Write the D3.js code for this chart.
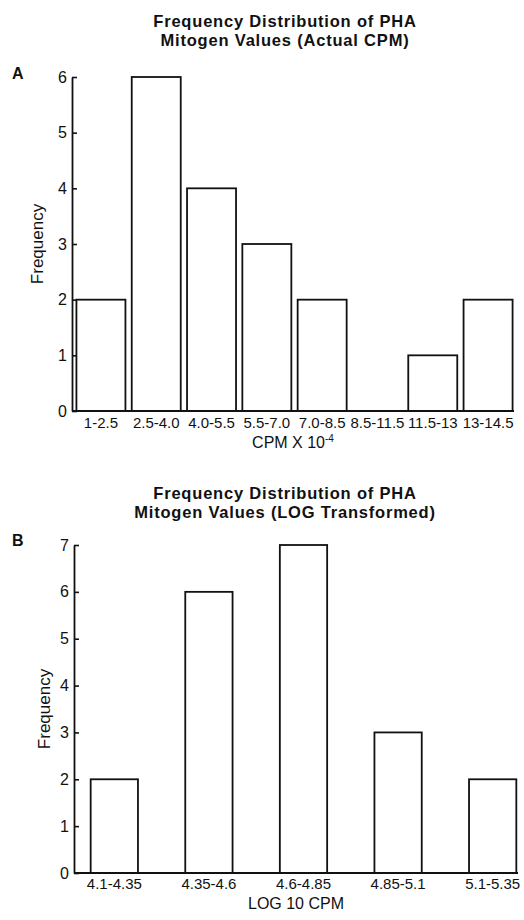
<!DOCTYPE html>
<html>
<head>
<meta charset="utf-8">
<script src="https://cdn.jsdelivr.net/npm/d3@7"></script>
<style>
  body { margin: 0; background: #fff; }
  svg text { font-family: "Liberation Sans", Arial, Helvetica, sans-serif; fill: #111; }
</style>
</head>
<body>
<div id="chart"></div>
<script>
// panel A data
var binsA = ["1-2.5", "2.5-4.0", "4.0-5.5", "5.5-7.0", "7.0-8.5", "8.5-11.5", "11.5-13", "13-14.5"];
var freqA = [2, 6, 4, 3, 2, 0, 1, 2];
var yTicksA = [0, 1, 2, 3, 4, 5, 6];

// panel B data
var binsB = ["4.1-4.35", "4.35-4.6", "4.6-4.85", "4.85-5.1", "5.1-5.35"];
var freqB = [2, 6, 7, 3, 2];
var yTicksB = [0, 1, 2, 3, 4, 5, 6, 7];

const svg = d3.select('#chart')
  .append('svg')
  .attr('width', 524)
  .attr('height', 920);

function panel(opt) {
  var g = svg.append('g');

  var x = d3.scaleBand()
    .domain(opt.bins)
    .range(opt.xRange)
    .paddingInner(opt.pi)
    .paddingOuter(opt.po);

  var y = d3.scaleLinear()
    .domain([0, d3.max(opt.ticks)])
    .range([opt.y0, opt.y1]);

  // title, two lines
  g.append('text')
    .attr('x', opt.titleX).attr('y', opt.titleY)
    .attr('text-anchor', 'middle')
    .style('font-size', '16.5px').style('font-weight', 'bold')
    .style('letter-spacing', '0.8px')
    .text(opt.title[0]);
  g.append('text')
    .attr('x', opt.titleX).attr('y', opt.titleY + 19)
    .attr('text-anchor', 'middle')
    .style('font-size', '16.5px').style('font-weight', 'bold')
    .style('letter-spacing', '0.8px')
    .text(opt.title[1]);

  // panel letter
  g.append('text')
    .attr('x', 12).attr('y', opt.letterY)
    .style('font-size', '16px').style('font-weight', 'bold')
    .text(opt.letter);

  // bars
  var data = opt.bins.map((b, i) => ({bin: b, v: opt.freq[i]})).filter(d => d.v > 0);
  g.selectAll('rect.bar')
    .data(data)
    .enter().append('rect')
    .attr('class', 'bar')
    .attr('x', d => x(d.bin))
    .attr('y', d => y(d.v))
    .attr('width', x.bandwidth())
    .attr('height', d => y(0) - y(d.v))
    .attr('fill', '#fff')
    .attr('stroke', '#111')
    .attr('stroke-width', 1.8);

  // y axis with inward ticks
  var yAxis = g.append('g')
    .attr('transform', 'translate(' + opt.axisX + ',0)')
    .call(d3.axisLeft(y).tickValues(opt.ticks).tickFormat(d3.format('d')).tickSize(-5).tickPadding(5).tickSizeOuter(0));
  yAxis.select('.domain').attr('stroke', '#111').attr('stroke-width', 1.8);
  yAxis.selectAll('.tick line').attr('stroke', '#111').attr('stroke-width', 1.6);
  yAxis.selectAll('.tick text').style('font-size', '16px').attr('fill', '#111');

  // baseline
  g.append('line')
    .attr('x1', opt.axisX).attr('x2', opt.baseEnd)
    .attr('y1', y(0)).attr('y2', y(0))
    .attr('stroke', '#111').attr('stroke-width', 1.8);

  // x labels
  var xAxis = g.append('g')
    .attr('transform', 'translate(0,' + y(0) + ')')
    .call(d3.axisBottom(x).tickSize(0).tickPadding(opt.labelPad));
  xAxis.select('.domain').remove();
  xAxis.selectAll('.tick text').style('font-size', '15px').attr('fill', '#111');

  // axis titles
  g.append('text')
    .attr('transform', 'translate(' + opt.yTitleX + ',' + (opt.y0 + opt.y1) / 2 + ') rotate(-90)')
    .attr('text-anchor', 'middle')
    .attr('dy', '0.35em')
    .style('font-size', '17px')
    .text('Frequency');

  var xt = g.append('text')
    .attr('x', (opt.axisX + opt.baseEnd) / 2)
    .attr('y', opt.xTitleY)
    .attr('text-anchor', 'middle')
    .style('font-size', '16px')
    .text(opt.xTitle);
  if (opt.xSup) {
    xt.append('tspan')
      .attr('dy', -6)
      .style('font-size', '10px')
      .text(opt.xSup);
  }
}

panel({
  bins: binsA, freq: freqA, ticks: yTicksA,
  xRange: [73, 516], pi: 0.114, po: 0.062,
  y0: 411, y1: 77, axisX: 72, baseEnd: 514,
  title: ['Frequency Distribution of PHA', 'Mitogen Values (Actual CPM)'],
  titleX: 285, titleY: 27, letter: 'A', letterY: 79,
  labelPad: 6, yTitleX: 37, xTitle: 'CPM X 10', xSup: '-4', xTitleY: 448
});

panel({
  bins: binsB, freq: freqB, ticks: yTicksB,
  xRange: [85, 522], pi: 0.5, po: 0.06,
  y0: 873, y1: 545, axisX: 74, baseEnd: 518,
  title: ['Frequency Distribution of PHA', 'Mitogen Values (LOG Transformed)'],
  titleX: 285, titleY: 499, letter: 'B', letterY: 546,
  labelPad: 5, yTitleX: 44, xTitle: 'LOG 10 CPM', xTitleY: 909
});
</script>
</body>
</html>
